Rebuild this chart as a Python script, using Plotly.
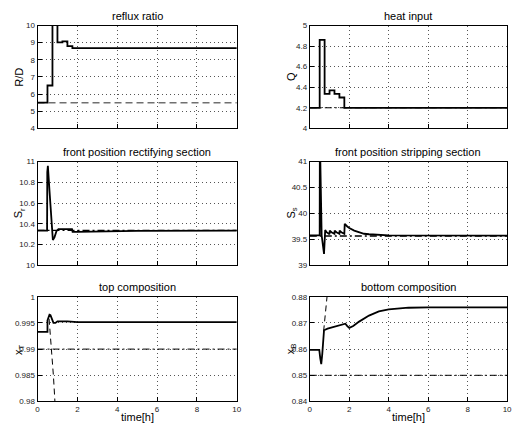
import plotly.graph_objects as go

W, H = 521, 429

# ---------------- data ----------------
x_ticks = [0, 2, 4, 6, 8, 10]
x_ticklabels = ["0", "2", "4", "6", "8", "10"]

# reflux ratio (step, held)
t_rr = [0, 0.5, 0.75, 1.0, 1.25, 1.5, 1.75, 10]
rr_ctrl = [5.5, 6.5, 10.8, 9.02, 9.07, 8.8, 8.68, 8.68]
t_rr_open = [0, 10]
rr_open = [5.5, 5.5]
rr_ticks = [4, 5, 6, 7, 8, 9, 10]
rr_ticklabels = ["4", "5", "6", "7", "8", "9", "10"]

# heat input (step, held)
t_q = [0, 0.5, 0.75, 1.0, 1.25, 1.5, 1.75, 10]
q_ctrl = [4.2, 4.86, 4.335, 4.37, 4.335, 4.30, 4.2, 4.2]
t_q_open = [0, 10]
q_open = [4.2, 4.2]
q_ticks = [4, 4.2, 4.4, 4.6, 4.8, 5]
q_ticklabels = ["4", "4.2", "4.4", "4.6", "4.8", "5"]

# front position rectifying section
t_sr = [0, 0.48, 0.49, 0.52, 0.6, 0.7, 0.77, 0.85, 0.95, 1.05, 1.2, 1.3, 1.4, 1.5, 1.73, 1.76, 2.0, 3.0, 5.0, 10]
sr_ctrl = [10.336, 10.336, 10.9, 10.96, 10.72, 10.42, 10.245, 10.27, 10.33, 10.35, 10.352, 10.347, 10.353, 10.35, 10.35, 10.324, 10.323, 10.328, 10.333, 10.336]
t_sr_ref = [0, 10]
sr_ref = [10.338, 10.338]
sr_ticks = [10, 10.2, 10.4, 10.6, 10.8, 11]
sr_ticklabels = ["10", "10.2", "10.4", "10.6", "10.8", "11"]

# front position stripping section
t_ss = [0, 0.5, 0.51, 0.6, 0.72, 0.78, 0.85, 0.95, 1.0, 1.01, 1.1, 1.25, 1.26, 1.35, 1.5, 1.51, 1.6, 1.75, 1.77,
        1.9, 2.0, 2.25, 2.5, 2.75, 3.0, 3.5, 4.0, 10]
ss_ctrl = [39.58, 39.58, 41.5, 39.58, 39.22, 39.68, 39.64, 39.61, 39.60, 39.67, 39.64, 39.61, 39.67, 39.64, 39.61,
           39.67, 39.64, 39.61, 39.80, 39.75, 39.72, 39.67, 39.635, 39.61, 39.60, 39.585, 39.58, 39.575]
t_ss_ref = [0, 10]
ss_ref = [39.565, 39.565]
ss_ticks = [39, 39.5, 40, 40.5, 41]
ss_ticklabels = ["39", "39.5", "40", "40.5", "41"]

# top composition
t_xt = [0, 0.5, 0.5, 0.55, 0.6, 0.65, 0.7, 0.8, 0.9, 1.0, 1.5, 1.8, 2.0, 10]
xt_ctrl = [0.9933, 0.9933, 0.9955, 0.9963, 0.99658, 0.9965, 0.9959, 0.9950, 0.9950, 0.9953, 0.9953, 0.99525, 0.99515, 0.99515]
t_xt_open = [0.58, 0.65, 0.72, 0.8, 0.88]
xt_open = [0.9958, 0.9925, 0.989, 0.9848, 0.9795]
t_xt_spec = [0, 10]
xt_spec = [0.99, 0.99]
xt_ticks = [0.98, 0.985, 0.99, 0.995, 1]
xt_ticklabels = ["0.98", "0.985", "0.99", "0.995", "1"]

# bottom composition
t_xb = [0, 0.48, 0.53, 0.58, 0.63, 0.72, 0.9, 1.2, 1.5, 1.8, 1.9, 2.0, 2.2, 2.5, 3.0, 3.5, 4.0, 4.5, 5.0, 6.0, 10]
xb_ctrl = [0.8597, 0.8597, 0.8565, 0.8543, 0.858, 0.8672, 0.8678, 0.8685, 0.869, 0.8697, 0.8688, 0.8681, 0.8688, 0.8705,
           0.8728, 0.8744, 0.8752, 0.8756, 0.8758, 0.8759, 0.8759]
t_xb_open = [0.7, 0.76, 0.82, 0.88]
xb_open = [0.8668, 0.871, 0.8755, 0.8805]
t_xb_spec = [0, 10]
xb_spec = [0.85, 0.85]
xb_ticks = [0.84, 0.85, 0.86, 0.87, 0.88]
xb_ticklabels = ["0.84", "0.85", "0.86", "0.87", "0.88"]

titles = ["reflux ratio", "heat input", "front position rectifying section",
          "front position stripping section", "top composition", "bottom composition"]
ylabels = ["R/D", "Q", "S<sub>r</sub>", "S<sub>s</sub>", "x<sub>T</sub>", "x<sub>B</sub>"]
xlabel = "time[h]"

# ---------------- layout geometry (pixels) ----------------
cols_px = [(36, 238), (312, 512)]
rows_px = [(22, 127), (161, 267), (299, 406)]

FONT = "Liberation Sans, Arial, Helvetica, sans-serif"
fig = go.Figure()

SOLID = dict(color="black", width=1.8)


def add(idx, x, y, line, shape="linear"):
    ax = "" if idx == 1 else str(idx)
    fig.add_trace(go.Scatter(x=x, y=y, mode="lines", line=dict(shape=shape, **line),
                             xaxis="x" + ax, yaxis="y" + ax, showlegend=False, hoverinfo="skip",
                             cliponaxis=True))


# panel 1 reflux
add(1, t_rr_open, rr_open, dict(color="#707070", width=1.5, dash="7px,4px"))
add(1, t_rr, rr_ctrl, SOLID, "hv")
# panel 2 heat
add(2, t_q_open, q_open, dict(color="black", width=1.0, dash="7px,3px,2px,3px"))
add(2, t_q, q_ctrl, SOLID, "hv")
# panel 3 rect
add(3, t_sr_ref, sr_ref, dict(color="black", width=1.2, dash="7px,3px,2px,3px"))
add(3, t_sr, sr_ctrl, SOLID)
# panel 4 strip
add(4, t_ss_ref, ss_ref, dict(color="black", width=1.5, dash="7px,3px,2px,3px"))
add(4, t_ss, ss_ctrl, SOLID)
# panel 5 top
add(5, t_xt_spec, xt_spec, dict(color="black", width=1.0, dash="7px,3px,2px,3px"))
add(5, t_xt_open, xt_open, dict(color="black", width=1.0, dash="6px,4px"))
add(5, t_xt, xt_ctrl, SOLID)
# panel 6 bottom
add(6, t_xb_spec, xb_spec, dict(color="black", width=1.0, dash="7px,3px,2px,3px"))
add(6, t_xb_open, xb_open, dict(color="black", width=1.0, dash="6px,4px"))
add(6, t_xb, xb_ctrl, SOLID)

yspecs = [
    ([4, 10], rr_ticks, rr_ticklabels),
    ([4, 5], q_ticks, q_ticklabels),
    ([10, 11], sr_ticks, sr_ticklabels),
    ([39, 41], ss_ticks, ss_ticklabels),
    ([0.98, 1.0], xt_ticks, xt_ticklabels),
    ([0.84, 0.88], xb_ticks, xb_ticklabels),
]

layout = {}
annotations = []
for i in range(6):
    r, c = divmod(i, 2)
    x0, x1 = cols_px[c]
    y0, y1 = rows_px[r]
    idx = i + 1
    key = "" if idx == 1 else str(idx)
    common = dict(showline=True, mirror=True, linecolor="black", linewidth=1,
                  ticks="inside", ticklen=4, tickcolor="black", zeroline=False,
                  showgrid=True, gridcolor="#555555", gridwidth=1, griddash="1px,3px",
                  tickfont=dict(size=8, color="#222222", family=FONT), fixedrange=True)
    layout["xaxis" + key] = dict(domain=[x0 / W, x1 / W], range=[0, 10], tickvals=x_ticks,
                                 ticktext=x_ticklabels, showticklabels=(r == 2),
                                 anchor="y" + key, **common)
    yr, yt, ytl = yspecs[i]
    layout["yaxis" + key] = dict(domain=[1 - y1 / H, 1 - y0 / H], range=yr, tickvals=yt,
                                 ticktext=ytl, anchor="x" + key, **common)
    cx = (x0 + x1) / 2
    annotations.append(dict(text=titles[i], x=cx / W, y=1 - (y0 - 10) / H, xref="paper", yref="paper",
                            showarrow=False, font=dict(size=11, color="black", family=FONT),
                            xanchor="center", yanchor="middle"))
    annotations.append(dict(text=ylabels[i], x=(x0 - 19) / W, y=1 - ((y0 + y1) / 2) / H,
                            xref="paper", yref="paper", showarrow=False, textangle=-90,
                            font=dict(size=11, color="black", family=FONT),
                            xanchor="center", yanchor="middle"))
    if r == 2:
        annotations.append(dict(text=xlabel, x=cx / W, y=1 - 422 / H, xref="paper", yref="paper",
                                showarrow=False, font=dict(size=11, color="black", family=FONT),
                                xanchor="center", yanchor="middle"))

fig.update_layout(width=W, height=H, margin=dict(l=0, r=0, t=0, b=0),
                  paper_bgcolor="white", plot_bgcolor="white",
                  font=dict(family=FONT), annotations=annotations, **layout)

fig.write_html("out.html")
